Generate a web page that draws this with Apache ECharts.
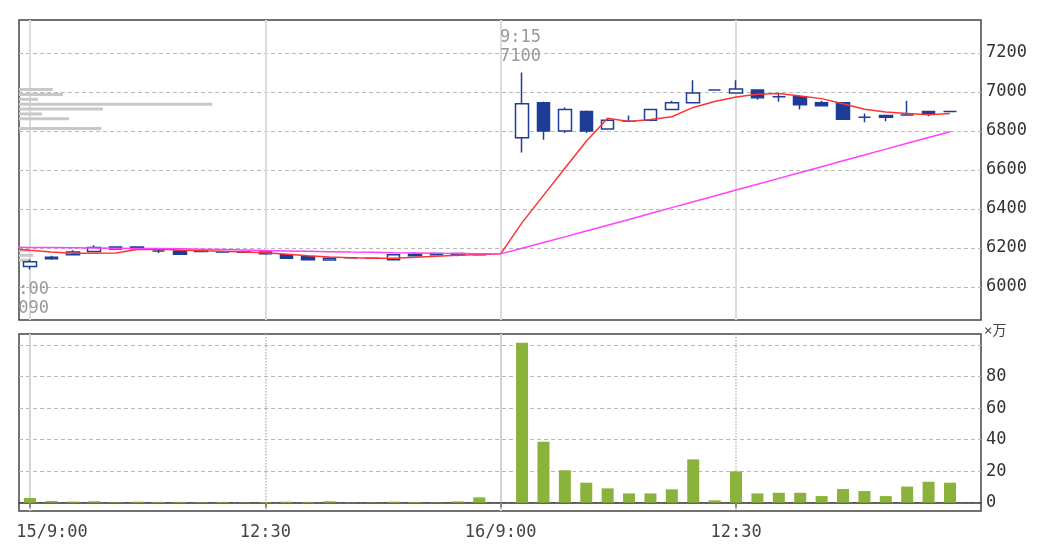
<!DOCTYPE html>
<html>
<head>
<meta charset="utf-8">
<title>15分足チャート</title>
<script src="https://cdn.jsdelivr.net/npm/echarts@6/dist/echarts.min.js"></script>
<style>
  html, body { margin: 0; padding: 0; background: #fff; }
  #chart { width: 1059px; height: 559px; }
</style>
</head>
<body>
<div id="chart"></div>
<script>
// 15分足 2日分 (15日・16日)
const times = [
  '15/9:00', '9:15', '9:30', '9:45', '10:00', '10:15', '10:30', '10:45', '11:00', '11:15', '11:30',
  '12:30', '12:45', '13:00', '13:15', '13:30', '13:45', '14:00', '14:15', '14:30', '14:45', '15:00',
  '16/9:00', '9:15', '9:30', '9:45', '10:00', '10:15', '10:30', '10:45', '11:00', '11:15', '11:30',
  '12:30', '12:45', '13:00', '13:15', '13:30', '13:45', '14:00', '14:15', '14:30', '14:45', '15:00'
]

// [始値, 終値, 安値, 高値]  16日 9:00 は約定なし
const candles = [
  [6105, 6130, 6090, 6140], [6152, 6145, 6140, 6160], [6165, 6180, 6165, 6188], [6182, 6203, 6182, 6214],
  [6205, 6195, 6193, 6207], [6205, 6196, 6195, 6207], [6185, 6185, 6175, 6195], [6185, 6168, 6165, 6185],
  [6184, 6182, 6180, 6186], [6181, 6180, 6180, 6182], [6179, 6178, 6177, 6180],
  [6180, 6170, 6166, 6182], [6165, 6148, 6145, 6166], [6155, 6140, 6138, 6156], [6138, 6148, 6137, 6150],
  [6150, 6150, 6148, 6152], [6147, 6148, 6145, 6150], [6140, 6165, 6138, 6166], [6168, 6160, 6160, 6176],
  [6172, 6165, 6164, 6173], [6172, 6166, 6158, 6173], [6166, 6165, 6164, 6167],
  null,
  [6765, 6940, 6690, 7100], [6945, 6800, 6755, 6950], [6800, 6910, 6790, 6920], [6900, 6800, 6790, 6905],
  [6810, 6855, 6810, 6865], [6850, 6850, 6848, 6880], [6855, 6910, 6850, 6912], [6910, 6945, 6910, 6955],
  [6945, 6995, 6945, 7060], [7010, 7010, 7008, 7012],
  [6995, 7015, 6995, 7060], [7010, 6970, 6960, 7010], [6975, 6975, 6950, 6995], [6975, 6935, 6910, 6975],
  [6945, 6930, 6930, 6955], [6945, 6860, 6860, 6945], [6870, 6870, 6845, 6890], [6880, 6870, 6850, 6880],
  [6882, 6882, 6880, 6955], [6900, 6890, 6875, 6900], [6900, 6900, 6900, 6902]
]

// 出来高 (万株)
const volumes = [
  3.0, 1.1, 0.7, 0.9, 0.3, 0.6, 0.5, 0.5, 0.3, 0.5, 0.2,
  0.4, 0.6, 0.5, 0.9, 0.2, 0.2, 0.6, 0.5, 0.2, 0.8, 3.4,
  null, 101.5, 38.7, 20.6, 12.7, 9.1, 5.9, 5.9, 8.5, 27.5, 1.5,
  19.9, 5.9, 6.3, 6.3, 4.2, 8.7, 7.4, 4.2, 10.2, 13.3, 12.7
]

// 移動平均 (短期 / 長期)
const maShort = [
  6188, 6180, 6173, 6173, 6174, 6192, 6194, 6190, 6186, 6183, 6180,
  6176, 6168, 6160, 6154, 6150, 6147, 6147, 6152, 6158, 6163, 6167,
  6170, 6330, 6470, 6609, 6747, 6865, 6849, 6859, 6873, 6921, 6951,
  6974, 6988, 6992, 6980, 6966, 6940, 6912, 6897, 6890, 6883, 6890
]
const maLong = [
  6203, 6202, 6201, 6200, 6199, 6198, 6197, 6196, 6194, 6192, 6190,
  6187, 6185, 6183, 6181, 6179, 6178, 6176, 6175, 6173, 6172, 6171,
  6170, 6199, 6228, 6257, 6287, 6317, 6346, 6377, 6407, 6437, 6467,
  6497, 6527, 6557, 6587, 6617, 6647, 6677, 6707, 6737, 6767, 6796
]
// 前日15:00 の移動平均 (左端から線をつなぐ)
const maPrev = [6199, 6204]

// 価格帯別出来高
const profilePrice = [7012.5, 6987.5, 6962.5, 6937.5, 6912.5, 6887.5, 6862.5, 6812.5, 6187.5, 6162.5, 6137.5]
const profileVol = [21.3, 27.7, 12.0, 122.0, 53.0, 14.6, 31.6, 51.9, 6.3, 8.9, 7.6]

const timeTicks = [0, 11, 22, 33]
const dayTicks = [0, 22]
const priceTicks = [6000, 6200, 6400, 6600, 6800, 7000, 7200]
const volTicks = [0, 20, 40, 60, 80, 100]
const volLabels = [0, 20, 40, 60, 80]
const volUnit = '×万'

const FONT = "'DejaVu Sans Mono', 'Noto Sans CJK JP', monospace"
const BLUE = '#1d3d99'

// データ組み立て
const candleData = []
candles.forEach((c, i) => {
  if (c) candleData.push([i, c[0], c[1], c[2], c[3]])
})
const volData = []
volumes.forEach((v, i) => {
  if (v != null) volData.push([i, v])
})
const maShortData = [[-1, maPrev[0]]].concat(maShort.map((v, i) => [i, v]))
const maLongData = [[-1, maPrev[1]]].concat(maLong.map((v, i) => [i, v]))
const profileData = profileVol.map((v, i) => [v, profilePrice[i]])

// 高値・安値
let hiIdx = 0
let loIdx = 0
candles.forEach((c, i) => {
  if (!c) return
  if (c[3] > candles[hiIdx][3]) hiIdx = i
  if (c[2] < candles[loIdx][2]) loIdx = i
})
const shortTime = (i) => times[i].split('/').pop()

const chart = echarts.init(document.getElementById('chart'))

const options = {
  animation: false,
  textStyle: { fontFamily: FONT },
  grid: [
    { left: 19, right: 78, top: 20, height: 300, show: true, borderColor: '#444', borderWidth: 1.5 },
    { left: 19, right: 78, top: 334, height: 177, show: true, borderColor: '#444', borderWidth: 1.5 }
  ],
  xAxis: [
    {
      type: 'value',
      gridIndex: 0,
      min: -0.514,
      max: 44.45,
      axisLine: { show: false },
      axisLabel: { show: false },
      axisTick: { show: false, customValues: timeTicks },
      splitLine: { show: true, lineStyle: { color: '#dcdcdc', width: 2 } }
    },
    {
      type: 'value',
      gridIndex: 1,
      min: -0.514,
      max: 44.45,
      axisLine: { show: true, lineStyle: { color: '#333', width: 1.5 } },
      axisTick: {
        show: true,
        customValues: timeTicks,
        length: 5,
        lineStyle: { color: '#888', width: 2 }
      },
      axisLabel: {
        customValues: timeTicks,
        margin: 13,
        fontSize: 17,
        color: '#444',
        formatter: (v) => (v === 0 ? '{first|' + times[v] + '}' : times[v]),
        rich: {
          first: { fontSize: 17, color: '#444', fontFamily: FONT, padding: [0, 0, 0, 44] }
        }
      },
      splitLine: { show: true, lineStyle: { color: '#bbb', width: 1.5, type: 'dotted' } }
    },
    {
      // 日替わりの縦線 (実線)
      type: 'value',
      gridIndex: 1,
      min: -0.514,
      max: 44.45,
      axisLine: { show: false },
      axisLabel: { show: false },
      axisTick: { show: false, customValues: dayTicks },
      splitLine: { show: true, lineStyle: { color: '#d4d4d4', width: 2 } }
    },
    {
      // 価格帯別出来高用
      type: 'value',
      gridIndex: 0,
      min: 0,
      max: 607,
      show: false
    }
  ],
  yAxis: [
    {
      type: 'value',
      gridIndex: 0,
      position: 'right',
      min: 5830.8,
      max: 7369.2,
      axisLine: { show: false },
      axisTick: { show: false, customValues: priceTicks },
      axisLabel: {
        customValues: priceTicks,
        margin: 5,
        fontSize: 17,
        color: '#333',
        formatter: (v) => String(v)
      },
      splitLine: { show: true, lineStyle: { color: '#b8b8b8', type: [4, 3], width: 1 } }
    },
    {
      type: 'value',
      gridIndex: 1,
      position: 'right',
      min: -5.27,
      max: 107.1,
      axisLine: { show: false },
      axisTick: { show: false, customValues: volTicks },
      axisLabel: {
        customValues: volLabels,
        margin: 5,
        fontSize: 17,
        color: '#333',
        formatter: (v) => String(v)
      },
      splitLine: { show: true, lineStyle: { color: '#b8b8b8', type: [4, 3], width: 1 } }
    }
  ],
  graphic: [
    // 左端の枠外を隠す
    { type: 'rect', left: 0, top: 0, shape: { width: 18, height: 330 }, style: { fill: '#fff' }, z: 100 },
    // 出来高の単位
    {
      type: 'text',
      left: 984,
      top: 324,
      style: { text: volUnit, fill: '#444', font: '14px ' + FONT }
    }
  ],
  series: [
    {
      name: '価格帯別出来高',
      type: 'custom',
      xAxisIndex: 3,
      yAxisIndex: 0,
      z: 1,
      encode: { x: 0, y: 1 },
      data: profileData,
      renderItem(params, api) {
        const start = api.coord([0, api.value(1)])
        const end = api.coord([api.value(0), api.value(1)])
        return {
          type: 'rect',
          shape: { x: start[0], y: start[1] - 1.5, width: end[0] - start[0], height: 3 },
          style: { fill: '#c8c8c8' }
        }
      }
    },
    {
      name: '株価',
      type: 'candlestick',
      xAxisIndex: 0,
      yAxisIndex: 0,
      z: 2,
      barWidth: 13,
      data: candleData,
      itemStyle: {
        color: '#fff',
        color0: BLUE,
        borderColor: BLUE,
        borderColor0: BLUE,
        borderWidth: 1.5
      },
      markPoint: {
        symbol: 'circle',
        symbolSize: 1,
        itemStyle: { color: 'rgba(0,0,0,0)' },
        label: {
          show: true,
          color: '#999',
          fontSize: 17,
          lineHeight: 19,
          fontFamily: FONT,
          align: 'left',
          verticalAlign: 'top'
        },
        data: [
          {
            coord: [hiIdx, candles[hiIdx][3]],
            label: { formatter: shortTime(hiIdx) + '\n' + candles[hiIdx][3], position: [-21.5, -44] }
          },
          {
            coord: [loIdx, candles[loIdx][2]],
            label: { formatter: shortTime(loIdx) + '\n' + candles[loIdx][2], position: [-21.5, 11] }
          }
        ]
      }
    },
    {
      name: '短期移動平均',
      type: 'line',
      xAxisIndex: 0,
      yAxisIndex: 0,
      z: 3,
      data: maShortData,
      showSymbol: false,
      lineStyle: { color: '#ff3333', width: 1.5 }
    },
    {
      name: '長期移動平均',
      type: 'line',
      xAxisIndex: 0,
      yAxisIndex: 0,
      z: 4,
      data: maLongData,
      showSymbol: false,
      lineStyle: { color: '#ff40ff', width: 1.5 }
    },
    {
      name: '出来高',
      type: 'bar',
      xAxisIndex: 1,
      yAxisIndex: 1,
      barWidth: 12,
      data: volData,
      itemStyle: { color: '#8bb23a' }
    }
  ]
}

chart.setOption(options)
</script>
</body>
</html>
